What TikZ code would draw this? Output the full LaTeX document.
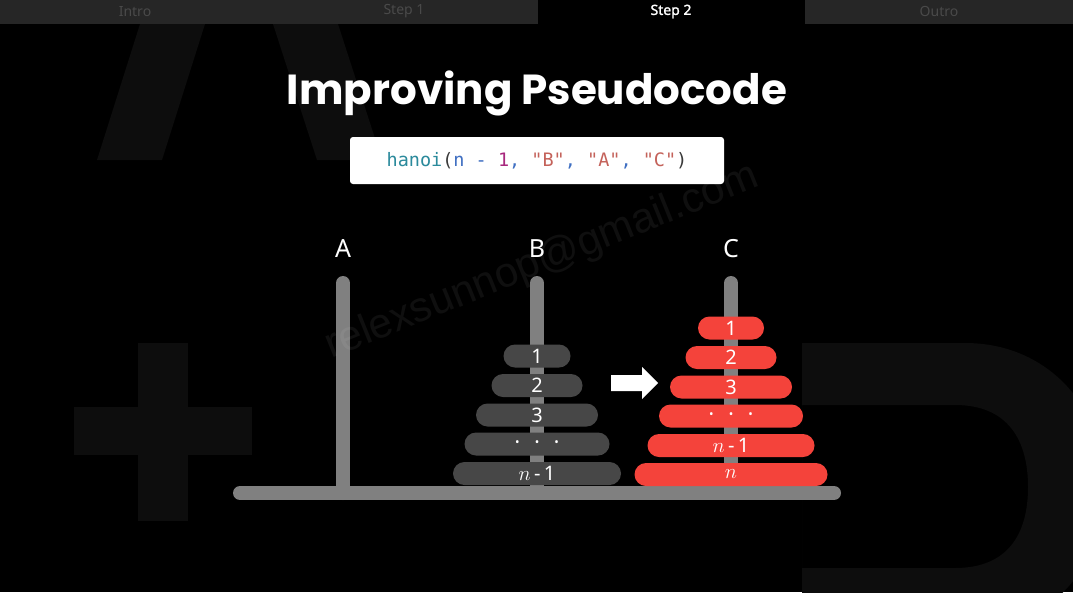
\documentclass[tikz,border=0pt]{standalone}
\usepackage{fontspec}
\setmainfont{Noto Sans}
\newfontfamily\titlefont{Poppins}
\newfontfamily\codefont{DejaVu Sans Mono}
\newfontfamily\markfont{Liberation Sans}
\newfontfamily\tabbold{Noto Sans}[FakeBold=1.5]
\usepackage{xcolor}
\usetikzlibrary{positioning}
\definecolor{bargray}{HTML}{262626}
\definecolor{tabtext}{HTML}{4A4A4A}
\definecolor{letterdark}{HTML}{0D0D0D}
\definecolor{peggray}{HTML}{808080}
\definecolor{diskgray}{HTML}{474747}
\definecolor{diskred}{HTML}{F4433B}
\definecolor{codeteal}{HTML}{2B8A9C}
\definecolor{codeblue}{HTML}{3F6FC2}
\definecolor{codemag}{HTML}{A8287E}
\definecolor{codestr}{HTML}{C4625A}
\definecolor{codepar}{HTML}{3A3A3A}
\tikzstyle{tab} = [font=\fontsize{14}{16}\selectfont, text=tabtext]
\tikzstyle{peg} = [line width=14pt, draw=peggray, line cap=round]
\tikzstyle{peglabel} = [text=white, font=\fontsize{25}{25}\selectfont]
\tikzstyle{disk} = [rectangle, rounded corners=11.5pt, minimum height=23pt, inner sep=0pt, text=white, font=\fontsize{20}{20}\selectfont]
\newcommand{\diskdots}{{\fontsize{12}{12}\selectfont •\hspace{15pt}•\hspace{15pt}•}}

\begin{document}
\begin{tikzpicture}[x=1pt, y=-1pt]
    \useasboundingbox (0,0) rectangle (1073,592);
    \fill[black] (0,0) rectangle (1073,592);

    % Faint letters in the background
    \begin{scope}
    \clip (0,0) rectangle (1073,592);
    \fill[letterdark] (97,160) -- (162,160) -- (205,24) -- (140,24) -- cycle;
    \fill[letterdark] (273,24) -- (338,24) -- (382,160) -- (317,160) -- cycle;
    \fill[letterdark] (138,343) rectangle (188,521);
    \fill[letterdark] (74,407) rectangle (252,455);
    \fill[letterdark, even odd rule] (802,343) -- (965,343) .. controls (1050,343) and (1105,410) .. (1105,487)
        .. controls (1105,565) and (1050,631) .. (965,631) -- (802,631) -- cycle
        (802,405) -- (955,405) .. controls (1008,405) and (1028,440) .. (1028,487)
        .. controls (1028,534) and (1008,568) .. (955,568) -- (802,568) -- cycle;
    \end{scope}

    % Top tab bar
    \fill[bargray] (0,0) rectangle (1073,24);
    \fill[black] (538,0) rectangle (805,24);
    \node[tab] (intro) at (135,11.5) {Intro};
    \node[tab] (step1) at (404,11.5) {Step 1};
    \node[tab, text=white, font=\tabbold\fontsize{14}{16}\selectfont] (step2) at (671,11.5) {Step 2};
    \node[tab] (outro) at (939,11.5) {Outro};

    % Title and code line
    \node[text=white, anchor=base, font=\titlefont\bfseries\fontsize{42}{42}\selectfont] (title) at (537,104) {Improving Pseudocode};
    \node[fill=white, rounded corners=3pt, minimum width=374pt, minimum height=47pt, inner sep=0pt, font=\codefont\fontsize{18.5}{20}\selectfont] (call) at (537,160.5)
        {\textcolor{codeteal}{hanoi}\textcolor{codepar}{(}\textcolor{codeblue}{n} \textcolor{codeblue}{-} \textcolor{codemag}{1}\textcolor{codeblue}{,} \textcolor{codestr}{"B"}\textcolor{codeblue}{,} \textcolor{codestr}{"A"}\textcolor{codeblue}{,} \textcolor{codestr}{"C"}\textcolor{codepar}{)}};

    % Pegs and base
    \foreach \x/\name in {343/A, 537/B, 731/C} {
        \draw[peg] (\x,283) -- (\x,493);
        \node[peglabel] (lab\name) at (\x,249) {\name};
    }
    \draw[peg] (240,493) -- (834,493);

    % Disks on peg B
    \foreach \w/\y/\lab/\nm in {67/356/1/1, 91/385.5/2/2, 122/415/3/3, 145/444/{\diskdots}/4, 168/473.5/{$n$\,-\,1}/5} {
        \node[disk, fill=diskgray, minimum width=\w pt] (diskB\nm) at (537,\y) {\lab};
    }

    % Disks on peg C
    \foreach \w/\y/\lab/\nm in {66/328/1/1, 91/357.5/2/2, 122/387/3/3, 144/416/{\diskdots}/4, 167/445.5/{$n$\,-\,1}/5, 193/474.5/{$n$}/6} {
        \node[disk, fill=diskred, minimum width=\w pt] (diskC\nm) at (731,\y) {\lab};
    }

    % Move arrow
    \fill[white] (611,375) -- (642,375) -- (642,367) -- (658,383) -- (642,399) -- (642,391) -- (611,391) -- cycle;

    % Watermark
    \node[text=white, opacity=0.06, rotate=22, font=\markfont\fontsize{42}{42}\selectfont] (mark) at (542,262) {relexsunnop@gmail.com};
\end{tikzpicture}
\end{document}
